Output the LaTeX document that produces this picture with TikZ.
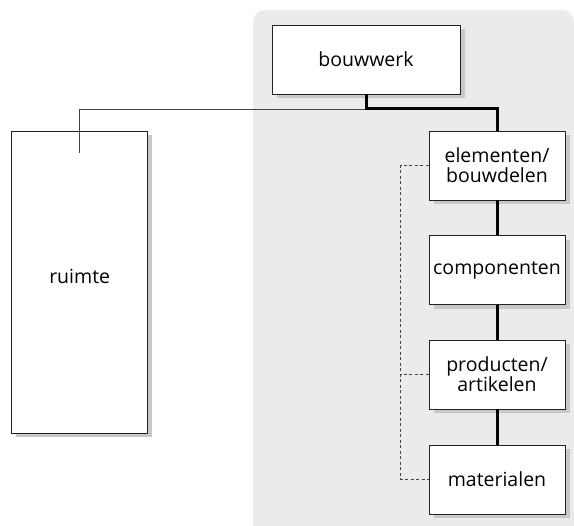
\documentclass[tikz,border=0pt]{standalone}
\usepackage{fontspec}
\setmainfont{Open Sans}
\usepackage{tikz}
\usetikzlibrary{shadows}
\usetikzlibrary{positioning}
\definecolor{achter}{HTML}{EBEBEB}
\definecolor{schaduw}{HTML}{C8C8C8}
\definecolor{lijn}{HTML}{222222}

\begin{document}
\begin{tikzpicture}[x=1pt, y=-1pt]
    \tikzstyle{blok}=[draw=lijn, line width=0.9pt, fill=white, rectangle, align=center,
      inner sep=0pt, minimum width=136pt, minimum height=69pt,
      font=\fontsize{19.5}{20}\selectfont,
      copy shadow={shadow xshift=4.5pt, shadow yshift=-4.5pt, draw=none, fill=schaduw}]
    \tikzstyle{dik}=[line width=3pt, black]
    \tikzstyle{dun}=[line width=0.9pt, lijn!85]
    \tikzstyle{stip}=[line width=0.8pt, lijn!85, dash pattern=on 3pt off 2.5pt]
    \useasboundingbox (0,0) rectangle (574,526);
    \fill[achter] (574,526) -- (253,526) {[rounded corners=12pt] -- (253,10) -- (574,10)} -- cycle;
    \node[blok, minimum width=188pt] (bouwwerk) at (366,59.5) {bouwwerk};
    \node[blok] (elementen) at (497,165.5) {elementen/\\bouwdelen};
    \node[blok] (componenten) at (497,270) {componenten};
    \node[blok] (producten) at (497,374.5) {producten/\\artikelen};
    \node[blok] (materialen) at (497,479.5) {materialen};
    \node[blok, minimum height=302pt] (ruimte) at (79.7,282) {\raisebox{11pt}{ruimte}};
    \coordinate (knik) at (366,109);
    \coordinate (eind) at (79.5,153);
    \draw[dun] (knik) -| (eind);
    \draw[dik] (bouwwerk.south) -- (knik) -| (elementen.north);
    \foreach \i/\j in {elementen/componenten, componenten/producten, producten/materialen}
    {\draw[dik] (\i.south) -- (\j.north);}
    \draw[stip] (elementen.west) -- ++(-28,0) |- (materialen.west);
    \draw[stip] (producten.west) -- ++(-28,0);
\end{tikzpicture}
\end{document}
